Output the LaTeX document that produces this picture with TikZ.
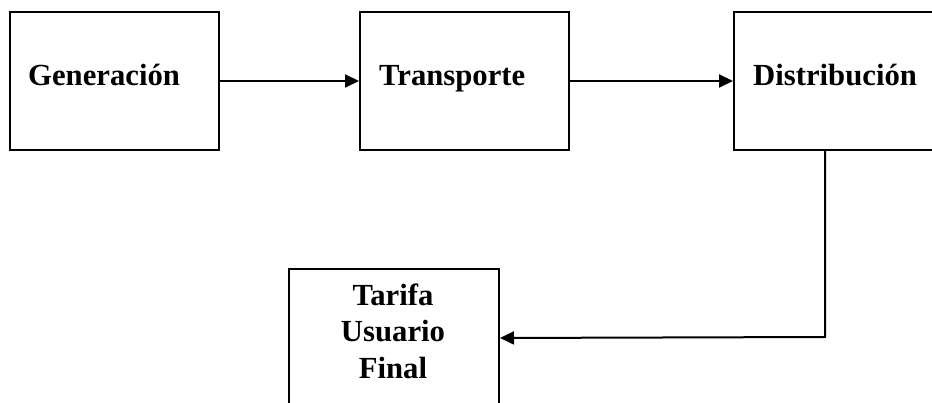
\documentclass[tikz,border=0pt]{standalone}
\usepackage{fontspec}
\setmainfont{Liberation Serif}
\usetikzlibrary{arrows.meta}
\begin{document}
\begin{tikzpicture}[x=1pt,y=-1pt,
  stage/.style={draw, line width=2pt, minimum width=209pt, minimum height=138pt,
                inner sep=0pt, anchor=north west},
  caption/.style={font=\fontsize{30.7}{36.5}\selectfont\bfseries, inner sep=0pt},
  flow/.style={line width=2pt, -{Triangle[length=14pt,width=13pt]}}]
\useasboundingbox (0,0) rectangle (932,403);

% stage boxes
\node[stage] (gen)    at (9,11)   {};
\node[stage] (trans)  at (359,11) {};
\node[stage] (dist)   at (733,11) {};
\node[stage, minimum width=210pt] (tarifa) at (288,268) {};

% box captions
\node[caption, anchor=base west] (gentxt)   at (28,86)  {Generación};
\node[caption, anchor=base west] (transtxt) at (379,86) {Transporte};
\node[caption, anchor=base west] (disttxt)  at (753,86) {Distribución};
\node[caption, align=center, anchor=base] (tarifatxt) at (393,378) {Tarifa\\Usuario\\Final};

% connectors
\coordinate (turn) at (825,337);
\draw[flow] (gen.east) -- (trans.west);
\draw[flow] (trans.east) -- (dist.west);
\draw[flow] (dist.south -| turn) -- (turn) -- (tarifa.east);
\end{tikzpicture}
\end{document}
